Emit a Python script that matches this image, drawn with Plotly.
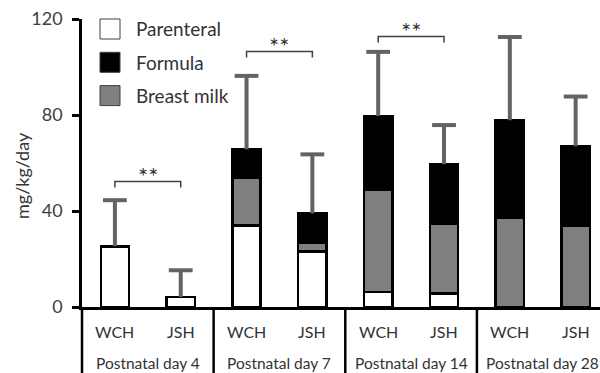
import plotly.graph_objects as go

# Stacked intake (mg/kg/day) by hospital and postnatal day
groups = ["WCH", "JSH", "WCH", "JSH", "WCH", "JSH", "WCH", "JSH"]
days = ["Postnatal day 4", "Postnatal day 7", "Postnatal day 14", "Postnatal day 28"]
parenteral = [25.3, 4.2, 34.0, 23.2, 6.2, 5.6, 0, 0]
breast_milk = [0, 0, 19.8, 3.5, 42.7, 29.1, 37.3, 33.7]
formula = [0, 0, 11.9, 12.3, 30.7, 24.8, 40.5, 33.3]
sd_upper = [19.2, 11.1, 30.6, 24.6, 26.7, 16.3, 34.7, 20.7]

# significance brackets: (left bar, right bar, level)
sig_pairs = [(0, 1, 52.3), (2, 3, 106.5), (4, 5, 112.7)]
sig_label = "**"
y_ticks = [0, 40, 80, 120]

xpos = list(range(len(groups)))
totals = [p + b + f for p, b, f in zip(parenteral, breast_milk, formula)]
whisker_tops = [t + s for t, s in zip(totals, sd_upper)]

FONT = "Lato"
TXT = "#333333"
ERR = "#636363"

# layout geometry (pixels)
W, H = 600, 373
ML, MT, MB = 82, 19, 66
PW, PH = W - ML, H - MT - MB


def px(x):
    return (x - ML) / PW


def py(y):
    return (H - MB - y) / PH


fig = go.Figure()
bar_line = dict(color="black", width=2.5)
fig.add_trace(go.Bar(x=xpos, y=parenteral, name="Parenteral", width=0.43,
                     marker=dict(color="white", line=bar_line)))
fig.add_trace(go.Bar(x=xpos, y=breast_milk, name="Breast milk", width=0.43,
                     marker=dict(color="#7f7f7f", line=bar_line)))
fig.add_trace(go.Bar(x=xpos, y=formula, name="Formula", width=0.43,
                     marker=dict(color="black", line=bar_line)))

# upper SD whiskers: stems from the stack top, caps at the whisker end
stem_x, stem_y = [], []
for x, t, w in zip(xpos, totals, whisker_tops):
    stem_x += [x, x, None]
    stem_y += [t, w, None]
fig.add_trace(go.Scatter(x=stem_x, y=stem_y, mode="lines", showlegend=False,
                         hoverinfo="skip", line=dict(color=ERR, width=4)))
fig.add_trace(go.Scatter(x=xpos, y=whisker_tops, mode="markers", showlegend=False,
                         hoverinfo="skip",
                         marker=dict(symbol="line-ew", size=17,
                                     line=dict(color=ERR, width=4))))

shapes = []
annotations = []

# significance brackets
for a, b, lvl in sig_pairs:
    drop = 2.5
    shapes.append(dict(type="path", xref="x", yref="y",
                       path=f"M {a},{lvl - drop} L {a},{lvl} L {b},{lvl} L {b},{lvl - drop}",
                       line=dict(color="#404040", width=1.5)))
    annotations.append(dict(x=(a + b) / 2, y=lvl, xref="x", yref="y", text=sig_label,
                            showarrow=False, yshift=6, yanchor="middle",
                            font=dict(family=FONT, size=24, color=TXT)))

# category labels under the axis
for i, g in enumerate(groups):
    annotations.append(dict(x=i, y=0, xref="x", yref="paper", text=g, showarrow=False,
                            yanchor="middle", yshift=-24,
                            font=dict(family=FONT, size=16, color=TXT)))
for k, d in enumerate(days):
    annotations.append(dict(x=2 * k + 0.5, y=0, xref="x", yref="paper", text=d,
                            showarrow=False, yanchor="middle", yshift=-56,
                            font=dict(family=FONT, size=15.5, color=TXT)))

# day-group dividers and left-axis extension below the plot
for k in range(1, len(days)):
    shapes.append(dict(type="line", xref="x", yref="paper", x0=2 * k - 0.5, x1=2 * k - 0.5,
                       y0=0, y1=-0.4, line=dict(color="black", width=2.5)))
shapes.append(dict(type="line", xref="paper", yref="paper", x0=0, x1=0, y0=0, y1=-0.4,
                   line=dict(color="black", width=2.5)))

# legend
legend_items = [("Parenteral", "white"), ("Formula", "black"), ("Breast milk", "#7f7f7f")]
for j, (name, col) in enumerate(legend_items):
    cy = 29 + j * 33.3
    shapes.append(dict(type="rect", xref="paper", yref="paper",
                       x0=px(100), x1=px(120), y0=py(cy + 10), y1=py(cy - 10),
                       fillcolor=col, line=dict(color="#404040", width=1)))
    annotations.append(dict(x=px(134), y=py(cy), xref="paper", yref="paper", text=name,
                            showarrow=False, xanchor="left", yanchor="middle",
                            font=dict(family=FONT, size=19, color=TXT)))

# y-axis title
annotations.append(dict(x=px(22), y=py(176), xref="paper", yref="paper", text="mg/kg/day",
                        showarrow=False, textangle=-90, xanchor="center", yanchor="middle",
                        font=dict(family=FONT, size=18, color=TXT)))

fig.update_layout(
    width=W, height=H,
    margin=dict(l=ML, r=0, t=MT, b=MB, pad=0),
    barmode="stack",
    showlegend=False,
    plot_bgcolor="white", paper_bgcolor="white",
    shapes=shapes, annotations=annotations,
    xaxis=dict(range=[-0.5, 7.37], showticklabels=False, ticks="", showgrid=False,
               zeroline=False, showline=True, linecolor="black", linewidth=2.5),
    yaxis=dict(range=[0, 120], tickvals=y_ticks, ticks="outside", ticklen=7, tickwidth=2.5,
               tickcolor="black", showgrid=False, zeroline=False, showline=True,
               linecolor="black", linewidth=2.5, ticklabelstandoff=6,
               tickfont=dict(family=FONT, size=18, color="#404040")),
)

fig.write_html("out.html")
